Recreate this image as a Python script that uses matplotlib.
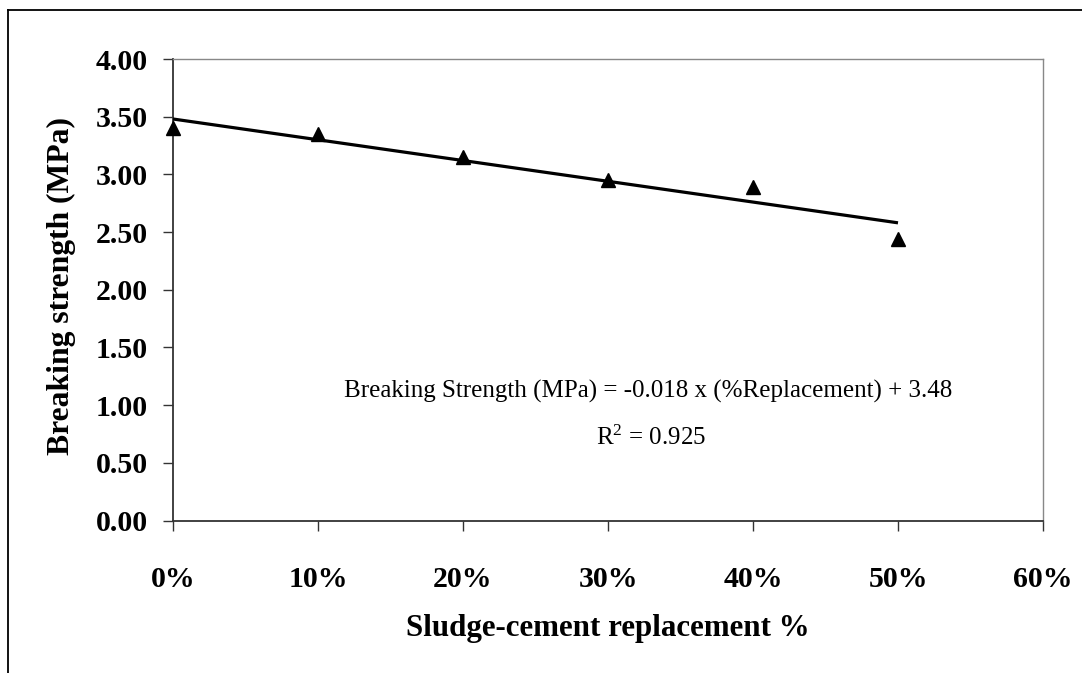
import matplotlib
matplotlib.use("Agg")
import matplotlib.pyplot as plt
from matplotlib.lines import Line2D
from matplotlib.ticker import FuncFormatter

plt.rcParams['font.family'] = ['Liberation Serif', 'DejaVu Serif']
plt.rcParams['mathtext.fontset'] = 'custom'
plt.rcParams['mathtext.rm'] = 'Liberation Serif'
plt.rcParams['mathtext.it'] = 'Liberation Serif:italic'

# measured breaking strength vs sludge replacement
replacement = [0, 10, 20, 30, 40, 50]
strength = [3.40, 3.35, 3.15, 2.95, 2.89, 2.44]

# linear trend line (as printed on the chart)
trend_x = [0, 50]
slope = -0.018
intercept = 3.48
eq_text = "Breaking Strength (MPa) = -0.018 x (%Replacement) + 3.48"
r2_text = r"R$^2$ = 0.925"

x_ticks = [0, 10, 20, 30, 40, 50, 60]
y_ticks = [0.0, 0.5, 1.0, 1.5, 2.0, 2.5, 3.0, 3.5, 4.0]

fig = plt.figure(figsize=(10.82, 6.73), dpi=100)
ax = fig.add_axes([173 / 1082, 1 - 520.5 / 673, 870 / 1082, 461.5 / 673])

trend_y = [slope * x + intercept for x in trend_x]
ax.plot(trend_x, trend_y, color='black', lw=2.3, solid_capstyle='butt', zorder=3)
ax.plot(replacement, strength, linestyle='none', marker='^', ms=9.5,
        color='black', zorder=4, clip_on=False)

ax.set_xlim(0, 60)
ax.set_ylim(0, 4)
ax.set_xticks(x_ticks)
ax.set_yticks(y_ticks)
ax.xaxis.set_major_formatter(FuncFormatter(lambda v, p: f"{v:.0f}%"))
ax.yaxis.set_major_formatter(FuncFormatter(lambda v, p: f"{v:.2f}"))

for side in ['left', 'bottom']:
    ax.spines[side].set_color('#333333')
    ax.spines[side].set_linewidth(1.3)
for side in ['top', 'right']:
    ax.spines[side].set_color('#888888')
    ax.spines[side].set_linewidth(1.0)

ax.tick_params(axis='both', direction='out', length=7, width=1.0, color='#333333',
               labelsize=21.5)
ax.tick_params(axis='y', pad=11)
ax.tick_params(axis='x', pad=26)
for lab in ax.get_xticklabels() + ax.get_yticklabels():
    lab.set_fontweight('bold')

ax.set_xlabel("Sludge-cement replacement %", fontsize=22.3, fontweight='bold', labelpad=15)
ax.set_ylabel("Breaking strength (MPa)", fontsize=22.8, fontweight='bold', labelpad=14)
ax.yaxis.label.set_y(0.509)

ax.text(32.8, 1.12, eq_text, ha='center', va='center', fontsize=18)
ax.text(33.0, 0.72, r2_text, ha='center', va='center', fontsize=18)

# outer chart frame (cut off at right and bottom)
fig.add_artist(Line2D([8 / 1082, 1.0], [1 - 10 / 673, 1 - 10 / 673],
                      transform=fig.transFigure, color='black', lw=1.3))
fig.add_artist(Line2D([8 / 1082, 8 / 1082], [0.0, 1 - 10 / 673],
                      transform=fig.transFigure, color='black', lw=1.3))

fig.savefig("out.png", dpi=100)
